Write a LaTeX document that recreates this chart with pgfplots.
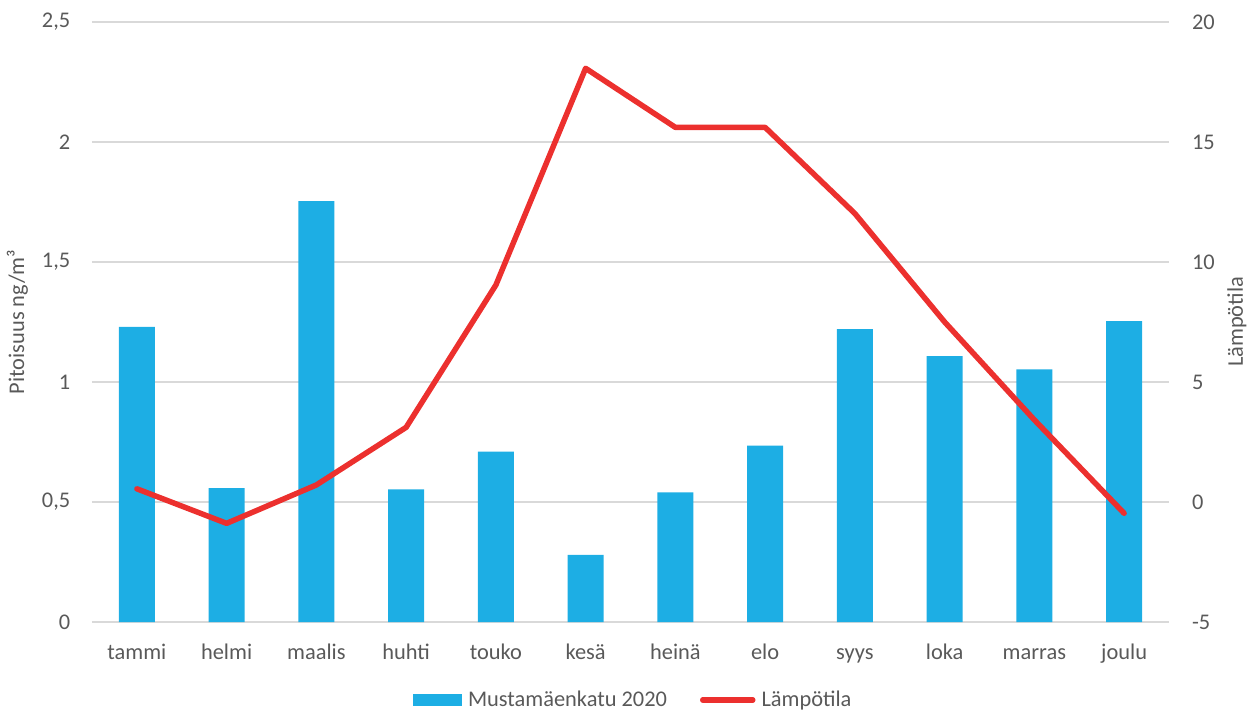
\documentclass[border=0pt]{standalone}
\usepackage{pgfplots}
\pgfplotsset{compat=1.18}
\usepackage{fontspec}
\setmainfont{Carlito}

\definecolor{txt}{HTML}{595959}
\definecolor{barblue}{HTML}{1DAEE4}
\definecolor{tempred}{HTML}{EC302E}
\definecolor{gridgray}{HTML}{D9D9D9}

\newcommand{\lblfont}{\fontsize{11.2}{13}\selectfont}

\pgfplotsset{
  common/.style={
    at={(46pt,46pt)}, anchor=south west,
    scale only axis, width=538.5pt, height=300pt,
    xmin=-0.5, xmax=11.5,
    axis line style={draw=none},
    major tick length=0pt,
    tick style={draw=none},
    ticklabel style={font=\lblfont, text=txt, inner sep=0pt},
    label style={font=\lblfont, text=txt, inner sep=0pt},
  }
}

\begin{document}
\begin{tikzpicture}
\useasboundingbox (0,0) rectangle (627.5pt,357pt);

% monthly concentration (left axis)
\begin{axis}[common,
  ybar, bar width=18pt,
  ymin=0, ymax=2.5,
  ytick={0,0.5,1,1.5,2,2.5},
  yticklabels={0,{0,5},1,{1,5},2,{2,5}},
  ymajorgrids, grid style={gridgray, line width=0.9pt},
  xtick={0,...,11},
  xticklabels={tammi,helmi,maalis,huhti,touko,kesä,heinä,elo,syys,loka,marras,joulu},
  xticklabel style={anchor=base, yshift=-18.5pt},
  yticklabel style={anchor=east, xshift=-10.7pt},
  ylabel={Pitoisuus ng/m³},
  ylabel style={at={(axis description cs:-0.0631,0.5)}, anchor=base},
]
\addplot[fill=barblue, draw=none] coordinates {
  (0,1.230) (1,0.558) (2,1.754) (3,0.553) (4,0.710) (5,0.280)
  (6,0.540) (7,0.735) (8,1.220) (9,1.108) (10,1.053) (11,1.254)
};
\end{axis}

% monthly mean temperature (right axis)
\begin{axis}[common,
  ymin=-5, ymax=20,
  ytick={-5,0,5,10,15,20},
  yticklabels={-5,0,5,10,15,20},
  yticklabel pos=right,
  yticklabel style={anchor=west, xshift=11.3pt},
  xtick=\empty,
  ylabel={Lämpötila},
  ylabel style={at={(axis description cs:1.0687,0.5)}, anchor=base},
  legend columns=2,
  legend style={at={(axis description cs:0.5045,-0.13)}, anchor=center,
    draw=none, fill=none, inner sep=0pt,
    /tikz/every even column/.append style={column sep=13.5pt},
    nodes={inner xsep=3pt, inner ysep=0pt, text=txt, font=\lblfont}},
]
\addlegendimage{legend image code/.code={\fill[barblue] (0pt,-2.75pt) rectangle (24pt,2.75pt);}}
\addlegendentry{Mustamäenkatu 2020}
\addplot[tempred, mark=none, line width=2.75pt, line join=round, line cap=round,
  legend image code/.code={\draw[tempred, line width=2.75pt, line cap=round] (0pt,0pt) -- (25pt,0pt);}]
  coordinates {
  (0,0.55) (1,-0.89) (2,0.71) (3,3.11) (4,9.04) (5,18.07)
  (6,15.61) (7,15.61) (8,12.02) (9,7.5) (10,3.42) (11,-0.47)
};
\addlegendentry{Lämpötila}
\end{axis}
\end{tikzpicture}
\end{document}
